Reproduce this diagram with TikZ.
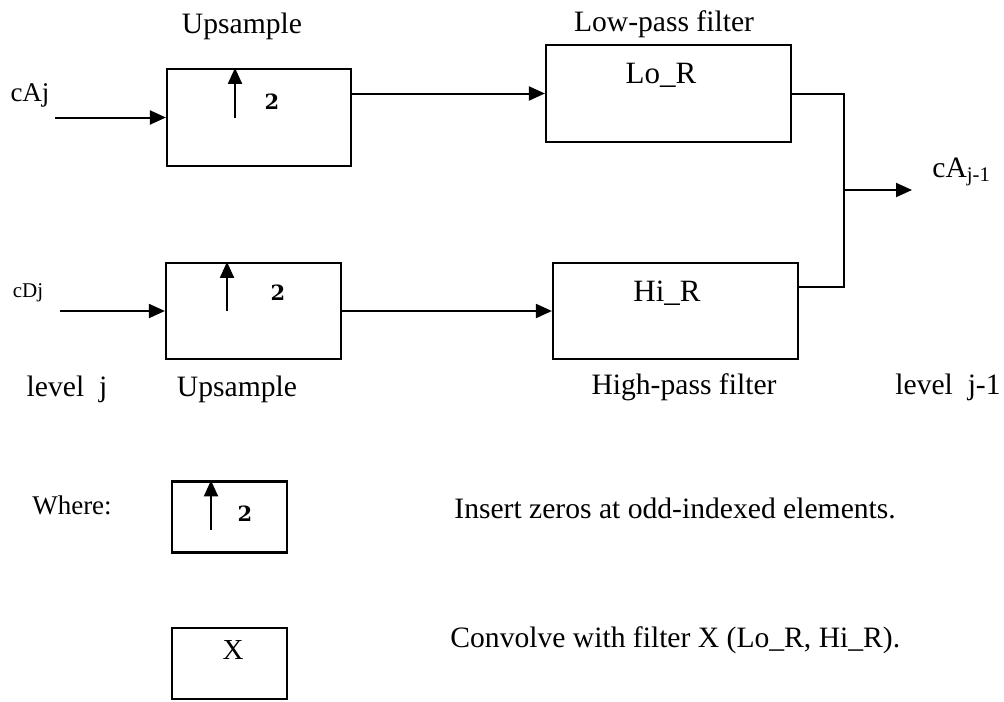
\documentclass[tikz,border=0pt]{standalone}
\usepackage{fontspec}
\setmainfont{Liberation Serif}
\newfontfamily\facfont{DejaVu Serif}
\usepackage{tikz}
\usetikzlibrary{
  arrows.meta,
  positioning
}
\tikzset{
  wvnode/.style={
    draw, line width=1.1pt, inner sep=0pt
  },
  upbox/.style={wvnode, minimum width=92pt, minimum height=48.5pt},
  fltbox/.style={wvnode, minimum width=122.5pt, minimum height=48.5pt},
  keybox/.style={wvnode, minimum width=57.5pt, minimum height=35.5pt},
  sig/.style={-{Triangle[length=8pt, width=7pt]}, line width=1pt},
  wire/.style={line width=1pt},
  lbl/.style={font=\fontsize{14.8}{17}\selectfont, inner sep=0pt},
  boxlbl/.style={font=\fontsize{15.5}{18}\selectfont, inner sep=0pt},
  fac/.style={font=\fontsize{10.5}{12}\selectfont\facfont\bfseries, inner sep=0pt}
}
\begin{document}
\begin{tikzpicture}[x=0.5pt, y=-0.5pt]
  \useasboundingbox (0,0) rectangle (1004,701);
  % blocks
  \node[upbox] (upA) at (259,117.5) {};
  \node[upbox, minimum width=87.5pt, minimum height=48pt] (upD) at (253.5,311) {};
  \node[fltbox] (lo) at (668.5,93.5) {};
  \node[fltbox, minimum height=48pt] (hi) at (675.5,311) {};
  \node[keybox] (keyup) at (229.5,517) {};
  \node[keybox] (keyx) at (229.5,663.5) {};
  % block texts
  \node[fac] (twoA) at (272,102) {2};
  \node[fac] (twoD) at (278,293) {2};
  \node[fac] (twokey) at (245,514) {2};
  \node[boxlbl] (loname) at (661,75) {Lo\_R};
  \node[boxlbl] (hiname) at (667,293) {Hi\_R};
  \node[boxlbl, font=\fontsize{14.5}{17}\selectfont] (xname) at (233,650) {X};
  \draw[sig] ([xshift=-12pt]upA.center) -- ([xshift=-12pt]upA.north);
  \draw[sig] ([xshift=-13.25pt]upD.center) -- ([xshift=-13.25pt]upD.north);
  \draw[sig] ([xshift=-9.25pt, yshift=-6.5pt]keyup.center) -- ([xshift=-9.25pt]keyup.north);
  % free ends
  \coordinate (cAin) at (55,117.5);
  \coordinate (cDin) at (60,311);
  \coordinate (jn) at (844,190);
  \coordinate (cAout) at (912,190);
  % signal paths
  \draw[sig] (cAin) -- (upA.west);
  \draw[sig] (cDin) -- (upD.west);
  \draw[sig] (upA.east |- lo.west) -- (lo.west);
  \draw[sig] (upD.east) -- (upD.east -| hi.west);
  \draw[wire] (lo.east) -| (jn) |- ([yshift=12pt]hi.east);
  \draw[sig] (jn) -- (cAout);
  % labels
  \node[lbl, font=\fontsize{13.5}{15}\selectfont] (cAj) at (30,95) {cAj};
  \node[lbl, font=\fontsize{10.5}{12}\selectfont] (cDj) at (28,293) {cDj};
  \node[lbl, anchor=base west] (cAnext) at (932,177) {cA\textsubscript{j-1}};
  \node[lbl] (uplblA) at (242,26) {Upsample};
  \node[lbl] (lolbl) at (664,24) {Low-pass filter};
  \node[lbl] (uplblD) at (237,389) {Upsample};
  \node[lbl] (hilbl) at (684,387) {High-pass filter};
  \node[lbl] (lvlj) at (67,389) {level\ \ j};
  \node[lbl] (lvljm) at (948,387) {level\ \ j-1};
  % key
  \node[lbl, font=\fontsize{13.5}{16}\selectfont] (where) at (72,505) {Where:};
  \node[lbl, anchor=west] (insdesc) at (454,508) {Insert zeros at odd-indexed elements.};
  \node[lbl, anchor=west] (convdesc) at (450,640) {Convolve with filter X (Lo\_R, Hi\_R).};
\end{tikzpicture}
\end{document}
